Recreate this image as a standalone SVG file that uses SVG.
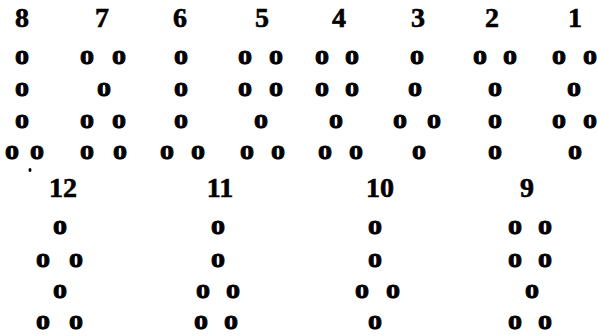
<svg xmlns="http://www.w3.org/2000/svg" width="597" height="336" viewBox="0 0 597 336">
<style>
text{font-family:"Liberation Serif","Times New Roman",serif;font-weight:bold;fill:#000;stroke:#000;text-anchor:middle}
.n{font-size:28px;stroke-width:0.6}
.d{font-size:28px;stroke-width:1}
</style>
<rect width="597" height="336" fill="#fff"/>
<g id="fig8">
<text class="n" x="22" y="27">8</text>
<text class="d" x="22" y="64">o</text>
<text class="d" x="22" y="96">o</text>
<text class="d" x="22" y="128">o</text>
<text class="d" x="12" y="159">o</text><text class="d" x="37" y="159">o</text>
<ellipse cx="30" cy="170" rx="1.5" ry="2"/>
</g>
<g id="fig7">
<text class="n" x="102" y="27">7</text>
<text class="d" x="87" y="64">o</text><text class="d" x="119" y="64">o</text>
<text class="d" x="104" y="96">o</text>
<text class="d" x="87" y="128">o</text><text class="d" x="119" y="128">o</text>
<text class="d" x="87" y="159">o</text><text class="d" x="120" y="159">o</text>
</g>
<g id="fig6">
<text class="n" x="180" y="27">6</text>
<text class="d" x="181" y="64">o</text>
<text class="d" x="181" y="96">o</text>
<text class="d" x="181" y="128">o</text>
<text class="d" x="167" y="159">o</text><text class="d" x="198" y="159">o</text>
</g>
<g id="fig5">
<text class="n" x="262" y="27">5</text>
<text class="d" x="245" y="64">o</text><text class="d" x="276" y="64">o</text>
<text class="d" x="245" y="96">o</text><text class="d" x="276" y="96">o</text>
<text class="d" x="261" y="128">o</text>
<text class="d" x="247" y="159">o</text><text class="d" x="278" y="159">o</text>
</g>
<g id="fig4">
<text class="n" x="339" y="27">4</text>
<text class="d" x="322" y="64">o</text><text class="d" x="352" y="64">o</text>
<text class="d" x="322" y="96">o</text><text class="d" x="352" y="96">o</text>
<text class="d" x="336" y="128">o</text>
<text class="d" x="325" y="159">o</text><text class="d" x="356" y="159">o</text>
</g>
<g id="fig3">
<text class="n" x="418" y="27">3</text>
<text class="d" x="417" y="64">o</text>
<text class="d" x="415" y="96">o</text>
<text class="d" x="400" y="128">o</text><text class="d" x="434" y="128">o</text>
<text class="d" x="419" y="159">o</text>
</g>
<g id="fig2">
<text class="n" x="492" y="27">2</text>
<text class="d" x="480" y="64">o</text><text class="d" x="510" y="64">o</text>
<text class="d" x="495" y="96">o</text>
<text class="d" x="495" y="128">o</text>
<text class="d" x="495" y="159">o</text>
</g>
<g id="fig1">
<text class="n" x="575" y="27">1</text>
<text class="d" x="559" y="64">o</text><text class="d" x="590" y="64">o</text>
<text class="d" x="574" y="96">o</text>
<text class="d" x="559" y="128">o</text><text class="d" x="590" y="128">o</text>
<text class="d" x="575" y="159">o</text>
</g>
<g id="fig12">
<text class="n" x="63" y="197">12</text>
<text class="d" x="60" y="234">o</text>
<text class="d" x="43" y="267">o</text><text class="d" x="76" y="267">o</text>
<text class="d" x="60" y="298">o</text>
<text class="d" x="43" y="329">o</text><text class="d" x="76" y="329">o</text>
</g>
<g id="fig11">
<text class="n" x="220" y="197">11</text>
<text class="d" x="218" y="234">o</text>
<text class="d" x="218" y="267">o</text>
<text class="d" x="203" y="298">o</text><text class="d" x="233" y="298">o</text>
<text class="d" x="201" y="329">o</text><text class="d" x="231" y="329">o</text>
</g>
<g id="fig10">
<text class="n" x="380" y="197">10</text>
<text class="d" x="375" y="234">o</text>
<text class="d" x="375" y="267">o</text>
<text class="d" x="362" y="298">o</text><text class="d" x="393" y="298">o</text>
<text class="d" x="375" y="329">o</text>
</g>
<g id="fig9">
<text class="n" x="527" y="197">9</text>
<text class="d" x="515" y="234">o</text><text class="d" x="545" y="234">o</text>
<text class="d" x="515" y="267">o</text><text class="d" x="545" y="267">o</text>
<text class="d" x="532" y="298">o</text>
<text class="d" x="515" y="329">o</text><text class="d" x="545" y="329">o</text>
</g>
</svg>
